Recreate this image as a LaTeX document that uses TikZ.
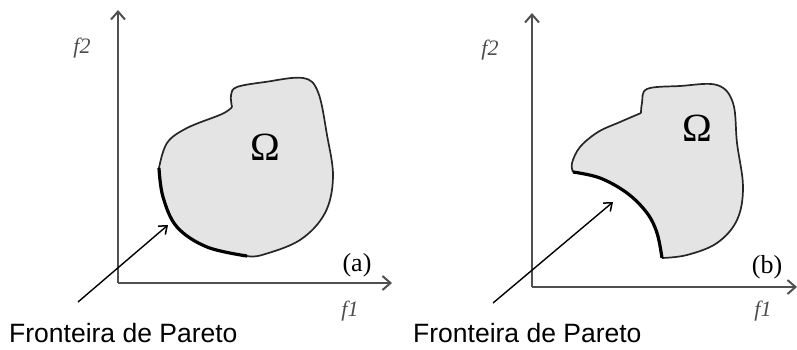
\documentclass[tikz,border=0pt]{standalone}
\usepackage{fontspec}
\setmainfont{Liberation Serif}
\newfontfamily\arialf{Liberation Sans}
\usetikzlibrary{arrows.meta}
\definecolor{axisgray}{HTML}{505050}
\definecolor{regionfill}{HTML}{E4E4E4}
\tikzset{
  axisline/.style={draw=axisgray, line width=2.4pt, -{Straight Barb[length=8pt,width=14pt,line width=2pt]}},
  pointer/.style={draw=black, line width=1.4pt, -{Straight Barb[length=7pt,width=11pt,line width=1.5pt]}},
  thinedge/.style={draw=black!85, line width=1.7pt},
  thickedge/.style={draw=black, line width=3.2pt},
  axislabel/.style={font=\fontsize{22}{22}\selectfont\itshape, text=black!70, inner sep=0pt},
  tag/.style={font=\fontsize{26}{26}\selectfont, inner sep=0pt},
  omega/.style={font=\fontsize{40}{40}\selectfont, inner sep=0pt},
  caption/.style={font=\arialf\fontsize{26.5}{26.5}\selectfont, inner sep=0pt, anchor=west},
}
\begin{document}
\begin{tikzpicture}[x=1pt,y=-1pt]
\useasboundingbox (0,0) rectangle (797,349);
% ---------- panel (a) ----------
\coordinate (oa) at (118,283);
\coordinate (ya) at (118,10);
\coordinate (xa) at (392,283);
\fill[regionfill]
  plot[smooth,tension=0.6] coordinates {(232,107) (231,95) (237,87) (265,82) (303,78) (318,92) (327,135) (333,177) (325,213) (300,240) (262,255) (247,256)}
  -- plot[smooth,tension=0.6] coordinates {(247,256) (207,247) (177,227) (163,197) (159,168)}
  -- plot[smooth,tension=0.6] coordinates {(159,168) (167,143) (187,128) (222,114) (232,107)} -- cycle;
\draw[thinedge] plot[smooth,tension=0.6] coordinates {(232,107) (231,95) (237,87) (265,82) (303,78) (318,92) (327,135) (333,177) (325,213) (300,240) (262,255) (247,256)};
\draw[thinedge] plot[smooth,tension=0.6] coordinates {(159,168) (167,143) (187,128) (222,114) (232,107)};
\draw[thickedge] plot[smooth,tension=0.6] coordinates {(247,256) (207,247) (177,227) (163,197) (159,168)};
\draw[axisline] (oa) -- (ya);
\draw[axisline] (oa) -- (xa);
\node[axislabel] (f2a) at (82,48) {f2};
\node[axislabel] (f1a) at (350,311) {f1};
\node[tag] (taga) at (357,265) {(a)};
\node[omega] (oma) at (265,147) {Ω};
\node[caption] (capa) at (9,333) {Fronteira de Pareto};
\coordinate (pa0) at (78,302);
\coordinate (pa1) at (168,225);
\draw[pointer] (pa0) -- (pa1);
% ---------- panel (b) ----------
\coordinate (ob) at (532,287);
\coordinate (yb) at (532,13);
\coordinate (xb) at (797,287);
\fill[regionfill]
  plot[smooth,tension=0.6] coordinates {(662,258) (687,255) (717,243) (737,220) (743,187) (737,143) (733,103) (717,85) (680,86) (647,89) (642,103) (641,113)}
  -- plot[smooth,tension=0.6] coordinates {(641,113) (620,122) (598,132) (580,147) (572,163) (573,172)}
  -- plot[smooth,tension=0.6] coordinates {(573,172) (600,178) (627,193) (647,213) (657,233) (662,258)} -- cycle;
\draw[thinedge] plot[smooth,tension=0.6] coordinates {(662,258) (687,255) (717,243) (737,220) (743,187) (737,143) (733,103) (717,85) (680,86) (647,89) (642,103) (641,113)};
\draw[thinedge] plot[smooth,tension=0.6] coordinates {(641,113) (620,122) (598,132) (580,147) (572,163) (573,172)};
\draw[thickedge] plot[smooth,tension=0.6] coordinates {(573,172) (600,178) (627,193) (647,213) (657,233) (662,258)};
\draw[axisline] (ob) -- (yb);
\draw[axisline] (ob) -- (xb);
\node[axislabel] (f2b) at (490,50) {f2};
\node[axislabel] (f1b) at (763,311) {f1};
\node[tag] (tagb) at (767,267) {(b)};
\node[omega] (omb) at (697,128) {Ω};
\node[caption] (capb) at (413,333) {Fronteira de Pareto};
\coordinate (pb0) at (493,303);
\coordinate (pb1) at (613,202);
\draw[pointer] (pb0) -- (pb1);
\end{tikzpicture}
\end{document}
